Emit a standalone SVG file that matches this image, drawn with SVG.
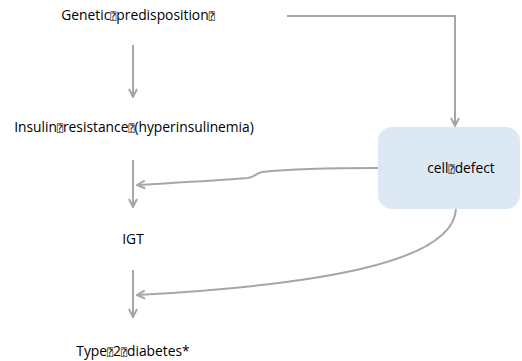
<svg xmlns="http://www.w3.org/2000/svg" width="522" height="361" viewBox="0 0 522 361">
<style>
.t{font-family:"Open Sans","Liberation Sans",sans-serif;font-size:13.8px;fill:#000}
.b{font-family:"DejaVu Sans Mono","DejaVu Sans",monospace;font-size:10px}
.c{fill:none;stroke:#a6a6a6;stroke-width:2}
</style>
<defs>
<marker id="a" viewBox="0 0 10 10" refX="9" refY="5" markerWidth="10" markerHeight="10" orient="auto" markerUnits="userSpaceOnUse">
<path d="M1,1 L9,5 L1,9" fill="none" stroke="#a6a6a6" stroke-width="2"/>
</marker>
</defs>
<rect width="522" height="361" fill="#fff"/>
<g id="connectors">
<path class="c" d="M133,45 V97" marker-end="url(#a)"/>
<path class="c" d="M133,160 V207" marker-end="url(#a)"/>
<path class="c" d="M133,270 V317" marker-end="url(#a)"/>
<path class="c" d="M287,16 H455 V126" marker-end="url(#a)"/>
<path class="c" d="M378,168 C330,168 290,169 262,172 C256,173 255,177 248,178 C210,181 170,183 137,185" marker-end="url(#a)"/>
<path class="c" d="M456,208 C455,262 320,285 137,295" marker-end="url(#a)"/>
</g>
<g id="genetic"><text class="t" x="138" y="20" text-anchor="middle">Genetic<tspan class="b">⍰</tspan>predisposition<tspan class="b">⍰</tspan></text></g>
<g id="insulin"><text class="t" x="134" y="132" text-anchor="middle">Insulin<tspan class="b">⍰</tspan>resistance<tspan class="b">⍰</tspan>(hyperinsulinemia)</text></g>
<g id="igt"><text class="t" x="133" y="244" text-anchor="middle">IGT</text></g>
<g id="type2"><text class="t" x="133" y="356" text-anchor="middle">Type<tspan class="b">⍰</tspan>2<tspan class="b">⍰</tspan>diabetes*</text></g>
<g id="celldefect">
<rect x="378" y="127" width="142" height="82" rx="14" fill="#dde8f5"/>
<text class="t" x="461" y="173" text-anchor="middle">cell<tspan class="b">⍰</tspan>defect</text>
</g>
</svg>
